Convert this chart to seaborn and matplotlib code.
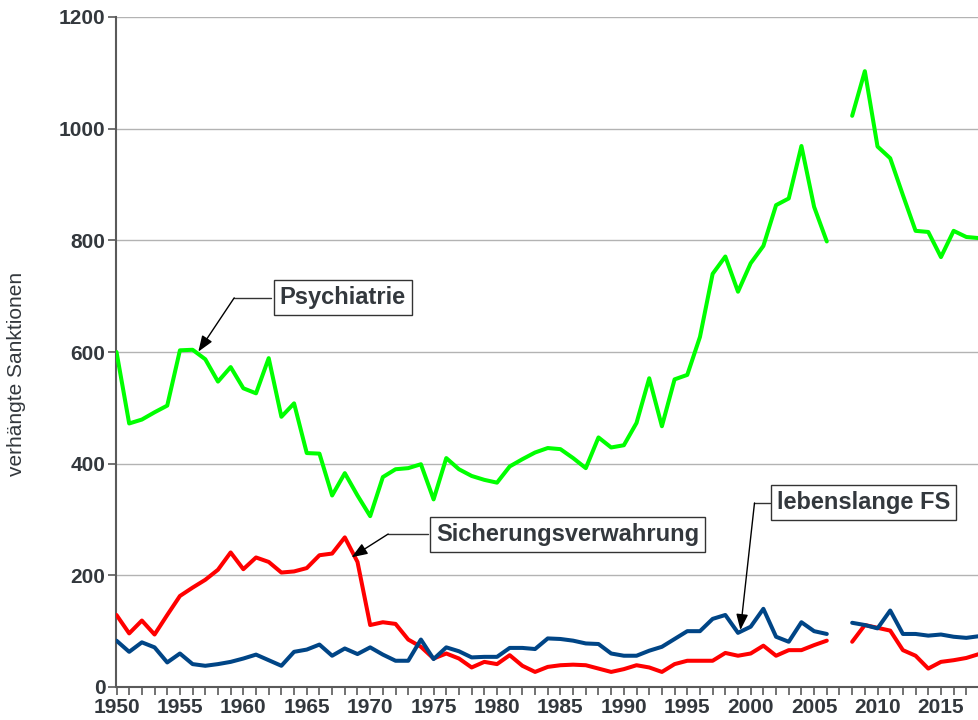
import numpy as np
import pandas as pd
import matplotlib
matplotlib.use("Agg")
import matplotlib.pyplot as plt
import seaborn as sns

years = list(range(1950, 2019))

psychiatrie = [600, 472, 479, 492, 504, 603, 604, 587, 547, 573,
               535, 526, 589, 484, 508, 419, 418, 343, 383, 343,
               306, 376, 390, 392, 399, 336, 410, 390, 378, 371,
               366, 395, 408, 420, 428, 426, 410, 392, 447, 429,
               433, 473, 553, 467, 551, 559, 627, 740, 771, 708,
               759, 790, 863, 875, 969, 860, 798, None, 1023, 1103,
               968, 947, 881, 817, 815, 770, 817, 806, 804]

sicherungsverwahrung = [129, 96, 119, 94, 129, 163, 178, 192, 210, 241,
                        211, 232, 224, 205, 207, 213, 236, 239, 268, 224,
                        111, 116, 113, 85, 72, 51, 60, 51, 35, 45,
                        41, 57, 38, 27, 36, 39, 40, 39, 33, 27,
                        32, 39, 35, 27, 41, 47, 47, 47, 61, 56,
                        60, 74, 56, 66, 66, 75, 83, None, 81, 111,
                        106, 101, 66, 56, 33, 45, 48, 52, 59]

lebenslang = [83, 63, 80, 71, 44, 60, 41, 38, 41, 45,
              51, 58, 48, 38, 63, 67, 76, 56, 69, 59,
              71, 58, 47, 47, 85, 50, 71, 64, 53, 54,
              54, 70, 70, 68, 87, 86, 83, 78, 77, 60,
              56, 56, 65, 72, 86, 100, 100, 122, 129, 97,
              108, 140, 90, 81, 116, 100, 95, None, 115, 111,
              105, 137, 95, 95, 92, 94, 90, 88, 91]

series_names = ["Psychiatrie", "Sicherungsverwahrung", "lebenslange FS"]
series_values = [psychiatrie, sicherungsverwahrung, lebenslang]
colors = {"Psychiatrie": "#00ff00", "Sicherungsverwahrung": "#ff0000",
          "lebenslange FS": "#004586"}

x_tick_labels = [str(y) for y in range(1950, 2016, 5)]
y_tick_values = [0, 200, 400, 600, 800, 1000, 1200]
y_label = "verhängte Sanktionen"

rows = []
for name, vals in zip(series_names, series_values):
    for yr, v in zip(years, vals):
        if v is None:
            continue
        seg = 0 if yr < 2007 else 1
        rows.append({"year": yr, "value": v, "series": name, "segment": seg})
df = pd.DataFrame(rows)

sns.set_theme(style="white")
plt.rcParams["font.family"] = ["Liberation Sans", "DejaVu Sans"]
text_color = "#33383d"
axis_color = "#5a5a5a"

fig = plt.figure(figsize=(9.79, 7.2), dpi=100)
ax = fig.add_axes([116.5 / 979, 33 / 720, (979 - 116.5) / 979, 670 / 720])

for yv in y_tick_values[1:]:
    ax.axhline(yv, color="#b3b3b3", lw=1.0, zorder=0)

sns.lineplot(data=df, x="year", y="value", hue="series", units="segment",
             estimator=None, palette=colors, hue_order=series_names,
             linewidth=2.9, legend=False, ax=ax, zorder=3)

ax.set_xlim(1950, 2018)
ax.set_ylim(0, 1200)
ax.set_xticks(range(1950, 2016, 5))
ax.set_xticklabels(x_tick_labels)
ax.set_xticks(range(1950, 2019), minor=True)
ax.set_yticks(y_tick_values)
ax.set_yticklabels([str(v) for v in y_tick_values])
ax.tick_params(axis="both", which="both", direction="out", length=6,
               width=1.2, color=axis_color, labelcolor=text_color,
               labelsize=15, pad=2)
ax.tick_params(axis="x", which="both", bottom=True)
ax.tick_params(axis="y", which="both", left=True)
for lab in ax.get_xticklabels() + ax.get_yticklabels():
    lab.set_fontweight("bold")

for s in ["top", "right"]:
    ax.spines[s].set_visible(False)
for s in ["left", "bottom"]:
    ax.spines[s].set_color(axis_color)
    ax.spines[s].set_linewidth(1.5)

ax.set_xlabel("")
ax.set_ylabel(y_label, fontsize=15, color=text_color)
ax.yaxis.set_label_coords(-0.105, 0.467)

bbox = dict(boxstyle="square,pad=0.25", fc="white", ec="#333333", lw=1.0)

def callout(text, center, box_left, elbow, tip):
    ax.plot([box_left[0], elbow[0]], [box_left[1], elbow[1]],
            color="#333333", lw=1.0, zorder=4, clip_on=False)
    ax.annotate("", xy=tip, xytext=elbow,
                arrowprops=dict(arrowstyle="-|>,head_length=0.8,head_width=0.3",
                                color="black", lw=1.0, shrinkA=0, shrinkB=0),
                zorder=5)
    ax.text(center[0], center[1], text, ha="center", va="center",
            fontsize=17, fontweight="bold", color=text_color, bbox=bbox,
            zorder=6)

callout("Psychiatrie", (1967.85, 697.6), (1962.18, 697), (1959.28, 697),
        (1956.45, 600.6))
callout("Sicherungsverwahrung", (1985.58, 273.7), (1974.52, 274),
        (1971.42, 274), (1968.53, 232.3))
callout("lebenslange FS", (2008.92, 329.8), (2001.5, 329.6), (2000.3, 329.6),
        (1999.19, 102))

fig.savefig("out.png", dpi=100)
